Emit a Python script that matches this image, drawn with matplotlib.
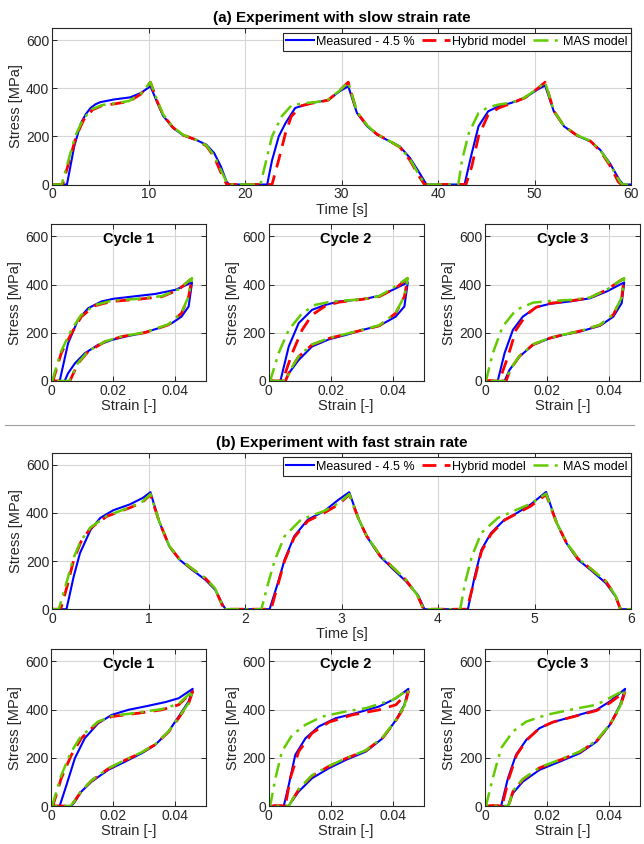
import numpy as np
import matplotlib
matplotlib.use('Agg')
from matplotlib import pyplot as plt

plt.rcParams['font.family'] = ['Liberation Sans', 'DejaVu Sans']

########
# DATA #
########

# (a) slow strain rate, stress vs time
a_t_meas = [0, 1.55, 2.3, 3.0, 3.5, 4.0, 4.5, 5.0, 6.4, 8.1, 9.2, 10.2, 10.85, 11.5, 12.55, 13.6, 14.9,
            16.0, 16.8, 17.5, 18.1, 18.4, 22.3, 22.8, 23.5, 24.2, 25.2, 26.9, 28.6, 29.8,
            30.7, 31.6, 32.65, 33.7, 35.0, 36.05, 37.1, 38.1, 38.8, 42.75, 43.5, 44.2, 45.2,
            46.3, 47.6, 49.0, 50.3, 51.1, 52.0, 53.05, 54.4, 55.8, 56.8, 57.8, 58.8, 59.2, 60]
a_s_meas = [0, 0, 158, 255, 292, 318, 333, 342, 353, 362, 380, 408, 346, 286, 235, 204, 186,
            165, 131, 75, 10, 0, 0, 100, 200, 255, 318, 339, 350, 387,
            408, 297, 242, 207, 179, 158, 110, 47, 0, 0, 130, 242, 304,
            325, 339, 360, 394, 411, 304, 242, 203, 179, 144, 89, 19, 0, 0]
a_t_hyb = [0, 1.1, 1.8, 2.5, 3.3, 4.2, 5.2, 6.5, 8.0, 9.2, 10.2, 10.9, 11.5, 12.5, 13.6, 14.9,
           16.0, 16.8, 17.5, 18.1, 22.8, 23.5, 24.2, 24.8, 25.9, 27.0, 28.6, 29.8, 30.7,
           31.6, 32.65, 33.7, 35.0, 36.05, 37.1, 38.1, 38.6, 42.9, 43.5, 44.2, 45.2, 46.3,
           47.6, 49.0, 50.3, 51.1, 52.0, 53.05, 54.4, 55.8, 56.8, 57.8, 58.7, 59.0, 60]
a_s_hyb = [0, 0, 100, 200, 270, 310, 328, 335, 345, 375, 425, 345, 290, 238, 205, 186,
           160, 115, 50, 0, 0, 103, 214, 283, 328, 338, 350, 390, 425,
           300, 245, 208, 180, 155, 100, 30, 0, 0, 75, 200, 290, 318,
           337, 360, 398, 425, 306, 243, 204, 180, 140, 80, 10, 0, 0]
a_t_mas = [0, 1.0, 1.7, 2.4, 3.2, 4.1, 5.2, 6.5, 8.0, 9.2, 10.2, 10.9, 11.5, 12.5, 13.6, 14.9,
           16.0, 16.8, 17.5, 18.2, 21.6, 22.2, 22.8, 23.8, 24.8, 26.0, 27.5, 28.6, 29.8, 30.7,
           31.6, 32.65, 33.7, 35.0, 36.05, 37.1, 38.1, 38.7, 42.1, 42.5, 43.2, 44.2, 45.2,
           46.3, 47.6, 49.0, 50.3, 51.1, 52.0, 53.05, 54.4, 55.8, 56.8, 57.8, 58.8, 59.1, 60]
a_s_mas = [0, 0, 100, 200, 270, 312, 330, 337, 347, 377, 425, 350, 292, 240, 206, 186,
           162, 120, 60, 0, 0, 100, 200, 283, 328, 337, 343, 352, 390, 425,
           302, 246, 208, 180, 156, 105, 35, 0, 0, 103, 214, 297, 321,
           332, 340, 362, 398, 425, 306, 244, 205, 181, 143, 85, 15, 0, 0]

# (b) fast strain rate, stress vs time
b_t_meas = [0, 0.15, 0.225, 0.29, 0.40, 0.50, 0.635, 0.805, 0.94, 1.02, 1.11, 1.215, 1.32,
            1.45, 1.59, 1.69, 1.78, 1.80, 2.255, 2.34, 2.41, 2.51, 2.65, 2.82, 2.97, 3.08,
            3.18, 3.26, 3.4, 3.54, 3.67, 3.79, 3.86, 4.31, 4.38, 4.45, 4.55, 4.69, 4.82,
            4.96, 5.12, 5.23, 5.33, 5.45, 5.6, 5.74, 5.84, 5.89, 6.0]
b_s_meas = [0, 0, 136, 233, 330, 379, 411, 435, 462, 486, 365, 261, 206,
            164, 122, 81, 11, 0, 0, 108, 205, 303, 372, 407, 455, 486,
            372, 303, 219, 164, 115, 60, 0, 0, 136, 247, 317, 372, 400,
            435, 487, 358, 275, 206, 157, 108, 53, 0, 0]
b_t_hyb = [0, 0.09, 0.16, 0.225, 0.30, 0.40, 0.57, 0.805, 0.94, 1.02, 1.11, 1.215, 1.32,
           1.45, 1.59, 1.69, 1.76, 1.79, 2.27, 2.34, 2.41, 2.51, 2.65, 2.82, 2.97, 3.08,
           3.18, 3.26, 3.4, 3.54, 3.67, 3.79, 3.85, 4.30, 4.38, 4.45, 4.55, 4.69, 4.82,
           4.96, 5.12, 5.23, 5.33, 5.45, 5.6, 5.74, 5.84, 5.89, 6.0]
b_s_hyb = [0, 0, 100, 205, 280, 337, 386, 421, 445, 476, 365, 262, 208,
           168, 128, 85, 20, 0, 0, 100, 200, 298, 366, 400, 435, 476,
           372, 305, 222, 170, 120, 55, 0, 0, 125, 240, 312, 370, 398,
           428, 476, 358, 277, 210, 162, 115, 55, 0, 0]
b_t_mas = [0, 0.07, 0.15, 0.22, 0.30, 0.40, 0.57, 0.805, 0.94, 1.02, 1.11, 1.215, 1.32,
           1.45, 1.59, 1.69, 1.76, 1.79, 2.17, 2.24, 2.31, 2.41, 2.58, 2.82, 2.97, 3.08,
           3.18, 3.26, 3.4, 3.54, 3.67, 3.79, 3.85, 4.23, 4.28, 4.35, 4.45, 4.62, 4.82,
           4.96, 5.12, 5.23, 5.33, 5.45, 5.6, 5.74, 5.84, 5.89, 6.0]
b_s_mas = [0, 0, 110, 210, 285, 340, 388, 423, 447, 478, 366, 263, 209,
           169, 129, 86, 21, 0, 0, 108, 205, 303, 372, 408, 440, 478,
           373, 306, 223, 171, 121, 56, 0, 0, 108, 219, 317, 379, 414,
           438, 480, 359, 278, 211, 163, 116, 56, 0, 0]

# hysteresis loops, stress vs strain (loading then unloading)
a1_e_meas = [0, 0.0027, 0.0054, 0.0086, 0.0119, 0.0162, 0.020, 0.026, 0.0335, 0.040, 0.0454,
             0.0443, 0.042, 0.0389, 0.0346, 0.0292, 0.0238, 0.0195, 0.0151, 0.0108, 0.0076, 0.0054, 0.0043, 0]
a1_s_meas = [0, 0, 156, 253, 302, 330, 341, 350, 361, 378, 409,
             309, 267, 240, 219, 198, 184, 170, 150, 115, 73, 32, 0, 0]
a1_e_hyb = [0, 0.0005, 0.0032, 0.0065, 0.0097, 0.014, 0.0195, 0.028, 0.0357, 0.041, 0.0454,
            0.0443, 0.042, 0.0378, 0.0303, 0.0227, 0.0173, 0.0119, 0.0086, 0.006, 0]
a1_s_hyb = [0, 0, 115, 198, 267, 312, 330, 339, 350, 378, 427,
            350, 281, 233, 201, 184, 163, 122, 73, 0, 0]
a1_e_mas = [0, 0.0003, 0.003, 0.0062, 0.0095, 0.014, 0.0195, 0.028, 0.0357, 0.041, 0.0454,
            0.0443, 0.042, 0.0378, 0.0303, 0.0227, 0.0173, 0.0119, 0.0086, 0.0058, 0]
a1_s_mas = [0, 0, 118, 205, 272, 315, 333, 341, 352, 380, 427,
            352, 283, 235, 202, 185, 164, 124, 75, 0, 0]

a2_e_meas = [0, 0.0038, 0.0065, 0.0097, 0.014, 0.0184, 0.0227, 0.0303, 0.0357, 0.040, 0.0449,
             0.0438, 0.041, 0.0357, 0.0303, 0.0249, 0.0195, 0.014, 0.0097, 0.0065, 0.0054, 0]
a2_s_meas = [0, 0, 143, 240, 295, 316, 330, 339, 353, 378, 409,
             309, 267, 229, 212, 191, 173, 143, 87, 32, 0, 0]
a2_e_hyb = [0, 0.0045, 0.0076, 0.0108, 0.014, 0.0184, 0.0227, 0.0303, 0.0357, 0.041, 0.0449,
            0.0438, 0.041, 0.0357, 0.0249, 0.0195, 0.014, 0.0097, 0.007, 0.0054, 0]
a2_s_hyb = [0, 0, 115, 212, 274, 312, 327, 339, 350, 385, 427,
            350, 281, 229, 194, 177, 150, 101, 46, 0, 0]
a2_e_mas = [0, 0.0005, 0.0032, 0.0065, 0.0108, 0.0151, 0.0205, 0.0303, 0.0357, 0.040, 0.0449,
            0.0438, 0.041, 0.0357, 0.0249, 0.0195, 0.014, 0.0097, 0.0072, 0.0056, 0]
a2_s_mas = [0, 0, 115, 212, 281, 316, 330, 339, 352, 385, 427,
            352, 283, 231, 195, 178, 151, 103, 50, 0, 0]

a3_e_meas = [0, 0.0041, 0.0063, 0.009, 0.0122, 0.0165, 0.0209, 0.0274, 0.0338, 0.0392, 0.0449,
             0.0441, 0.0414, 0.0371, 0.0306, 0.0252, 0.0209, 0.0155, 0.0111, 0.0079, 0.0063, 0]
a3_s_meas = [0, 0, 115, 212, 267, 306, 320, 330, 343, 371, 409,
             323, 267, 229, 205, 191, 177, 150, 101, 46, 0, 0]
a3_e_hyb = [0, 0.0046, 0.0074, 0.010, 0.0133, 0.0165, 0.0209, 0.0274, 0.0338, 0.0392, 0.0449,
            0.0441, 0.0414, 0.0371, 0.0306, 0.0252, 0.0209, 0.0155, 0.0111, 0.0082, 0.0068, 0]
a3_s_hyb = [0, 0, 101, 212, 274, 306, 322, 332, 345, 378, 427,
            345, 275, 232, 207, 192, 178, 151, 103, 48, 0, 0]
a3_e_mas = [0, 0.0003, 0.0025, 0.0057, 0.010, 0.0155, 0.0209, 0.0274, 0.0338, 0.0392, 0.0449,
            0.0441, 0.0414, 0.0371, 0.0306, 0.0252, 0.0209, 0.0155, 0.0111, 0.0082, 0.0066, 0]
a3_s_mas = [0, 0, 115, 226, 295, 325, 332, 336, 346, 378, 427,
            347, 277, 233, 207, 192, 179, 152, 104, 49, 0, 0]

b1_e_meas = [0, 0.0027, 0.0049, 0.0076, 0.0108, 0.0151, 0.0195, 0.0249, 0.0303, 0.0368, 0.0411, 0.0456,
             0.0443, 0.0411, 0.0378, 0.0335, 0.0292, 0.0238, 0.0184, 0.013, 0.0097, 0.0076, 0.0065, 0]
b1_s_meas = [0, 0, 87, 198, 281, 343, 378, 399, 413, 431, 447, 486,
             434, 371, 309, 253, 219, 184, 150, 101, 60, 18, 0, 0]
b1_e_hyb = [0, 0.0005, 0.0032, 0.0065, 0.0097, 0.0151, 0.0195, 0.0281, 0.0357, 0.0411, 0.0456,
            0.0443, 0.0411, 0.0378, 0.0335, 0.0292, 0.0238, 0.0184, 0.013, 0.0097, 0.0072, 0.0062, 0]
b1_s_hyb = [0, 0, 115, 212, 281, 348, 371, 385, 399, 420, 475,
            425, 365, 307, 255, 222, 190, 155, 105, 62, 15, 0, 0]
b1_e_mas = [0, 0.0003, 0.003, 0.0062, 0.0095, 0.0151, 0.0195, 0.0281, 0.0357, 0.0411, 0.0456,
            0.0443, 0.0411, 0.0378, 0.0335, 0.0292, 0.0238, 0.0184, 0.013, 0.0097, 0.0072, 0.0062, 0]
b1_s_mas = [0, 0, 120, 220, 288, 350, 373, 388, 402, 424, 478,
            427, 367, 309, 256, 223, 191, 156, 106, 63, 16, 0, 0]

b2_e_meas = [0, 0.0049, 0.0065, 0.0086, 0.0119, 0.0162, 0.0216, 0.0281, 0.0357, 0.0411, 0.0451,
             0.0438, 0.0411, 0.0368, 0.0314, 0.0249, 0.0195, 0.014, 0.0097, 0.007, 0.0065, 0]
b2_s_meas = [0, 0, 87, 212, 281, 330, 364, 385, 413, 447, 486,
             420, 357, 281, 226, 191, 157, 115, 60, 11, 0, 0]
b2_e_hyb = [0, 0.0054, 0.007, 0.0097, 0.014, 0.0195, 0.027, 0.0357, 0.0411, 0.0451,
            0.0438, 0.0411, 0.0368, 0.0314, 0.0249, 0.0195, 0.014, 0.0097, 0.0072, 0.0066, 0]
b2_s_hyb = [0, 0, 115, 226, 302, 348, 378, 399, 420, 475,
            412, 355, 283, 230, 197, 165, 125, 68, 15, 0, 0]
b2_e_mas = [0, 0.0005, 0.0022, 0.0043, 0.0076, 0.0119, 0.0173, 0.0249, 0.0314, 0.040, 0.0451,
            0.0438, 0.0411, 0.0368, 0.0314, 0.0249, 0.0195, 0.014, 0.0097, 0.0072, 0.0066, 0]
b2_s_mas = [0, 0, 115, 226, 295, 337, 371, 392, 406, 440, 482,
            415, 357, 285, 231, 198, 166, 127, 70, 16, 0, 0]

b3_e_meas = [0, 0.0052, 0.0074, 0.010, 0.0133, 0.0176, 0.0219, 0.0284, 0.036, 0.0403, 0.0452,
             0.0436, 0.0403, 0.036, 0.0306, 0.0241, 0.0176, 0.0122, 0.009, 0.0074, 0]
b3_s_meas = [0, 0, 115, 212, 274, 323, 348, 371, 399, 434, 486,
             420, 337, 267, 219, 184, 150, 101, 53, 0, 0]
b3_e_hyb = [0, 0.0055, 0.0077, 0.0102, 0.0135, 0.0176, 0.0219, 0.0284, 0.036, 0.0403, 0.0452,
            0.0436, 0.0403, 0.036, 0.0306, 0.0241, 0.0176, 0.0122, 0.009, 0.0076, 0]
b3_s_hyb = [0, 0, 115, 212, 274, 323, 348, 370, 396, 428, 475,
            412, 337, 270, 224, 190, 158, 110, 60, 0, 0]
b3_e_mas = [0, 0.0003, 0.0025, 0.0052, 0.009, 0.0133, 0.0198, 0.0274, 0.036, 0.0452,
            0.0436, 0.0403, 0.036, 0.0306, 0.0241, 0.0176, 0.0122, 0.009, 0.0076, 0]
b3_s_mas = [0, 0, 115, 240, 309, 350, 378, 399, 420, 482,
            414, 339, 272, 226, 192, 160, 112, 62, 0, 0]

labels = ['Measured - 4.5 %', 'Hybrid model', 'MAS model']
titles = ['(a) Experiment with slow strain rate', '(b) Experiment with fast strain rate']
cycle_titles = ['Cycle 1', 'Cycle 2', 'Cycle 3']

#########
# STYLE #
#########

c_meas = '#0000FF'
c_hyb = '#FF0000'
c_mas = '#62CC00'
edge = '#262626'
W, H = 644., 844.


def add_ax(fig, left, top, width, height):
    return fig.add_axes([left/W, 1 - (top+height)/H, width/W, height/H])


def style(ax):
    ax.grid(True, color='#d6d6d6', lw=0.8)
    ax.set_axisbelow(True)
    for sp in ax.spines.values():
        sp.set_color(edge)
        sp.set_linewidth(0.8)
    ax.tick_params(direction='in', length=3.5, width=0.7, top=True, right=True,
                   colors=edge, labelsize=10, pad=2)
    ax.set_ylim(0, 650)
    ax.set_yticks([0, 200, 400, 600])


def draw(ax, x1, y1, x2, y2, x3, y3):
    l1, = ax.plot(x1, y1, color=c_meas, lw=1.5)
    l2, = ax.plot(x2, y2, color=c_hyb, lw=2.0, dashes=(5, 3))
    l3, = ax.plot(x3, y3, color=c_mas, lw=1.8, dashes=(6, 2.5, 1.2, 2.5))
    return [l1, l2, l3]


fig = plt.figure(figsize=(6.44, 8.44), dpi=100)

big_tops = [28, 452.7]
small_tops = [224.3, 649.3]
small_lefts = [51.3, 268.6, 485]

big_data = [(a_t_meas, a_s_meas, a_t_hyb, a_s_hyb, a_t_mas, a_s_mas),
            (b_t_meas, b_s_meas, b_t_hyb, b_s_hyb, b_t_mas, b_s_mas)]
loop_data = [[(a1_e_meas, a1_s_meas, a1_e_hyb, a1_s_hyb, a1_e_mas, a1_s_mas),
              (a2_e_meas, a2_s_meas, a2_e_hyb, a2_s_hyb, a2_e_mas, a2_s_mas),
              (a3_e_meas, a3_s_meas, a3_e_hyb, a3_s_hyb, a3_e_mas, a3_s_mas)],
             [(b1_e_meas, b1_s_meas, b1_e_hyb, b1_s_hyb, b1_e_mas, b1_s_mas),
              (b2_e_meas, b2_s_meas, b2_e_hyb, b2_s_hyb, b2_e_mas, b2_s_mas),
              (b3_e_meas, b3_s_meas, b3_e_hyb, b3_s_hyb, b3_e_mas, b3_s_mas)]]
tmax = [60, 6]

for k in range(2):
    # time history
    ax = add_ax(fig, 52, big_tops[k], 579, 156.5)
    style(ax)
    lines = draw(ax, *big_data[k])
    ax.set_xlim(0, tmax[k])
    ax.set_xticks(np.linspace(0, tmax[k], 7))
    ax.set_xlabel('Time [s]', fontsize=10.5, color=edge, labelpad=1)
    ax.set_ylabel('Stress [MPa]', fontsize=10.5, color=edge, labelpad=2)
    ax.set_title(titles[k], fontsize=11, fontweight='bold', color='black', pad=4)
    leg = ax.legend(lines, labels, loc='upper right', bbox_to_anchor=(1.0, 0.97),
                    borderaxespad=0, ncol=3, fontsize=9, handlelength=2.2,
                    handletextpad=0.2, columnspacing=0.6, borderpad=0.25,
                    fancybox=False, framealpha=1, edgecolor=edge)
    leg.get_frame().set_linewidth(0.8)

    # hysteresis loops
    for j in range(3):
        ax = add_ax(fig, small_lefts[j], small_tops[k], 155, 156.7)
        style(ax)
        draw(ax, *loop_data[k][j])
        ax.set_xlim(0, 0.05)
        ax.set_xticks([0, 0.02, 0.04])
        ax.set_xticklabels(['0', '0.02', '0.04'])
        ax.set_xlabel('Strain [-]', fontsize=10.5, color=edge, labelpad=1)
        ax.set_ylabel('Stress [MPa]', fontsize=10.5, color=edge, labelpad=2)
        ax.text(0.5, 0.905, cycle_titles[j], transform=ax.transAxes, ha='center',
                va='center', fontsize=10.5, fontweight='bold')

# separator between (a) and (b)
fig.add_artist(plt.Line2D([5/W, 634/W], [1-425/H, 1-425/H], color='#a0a0a0', lw=0.8))

plt.savefig('out.png', dpi=100)
plt.close()
